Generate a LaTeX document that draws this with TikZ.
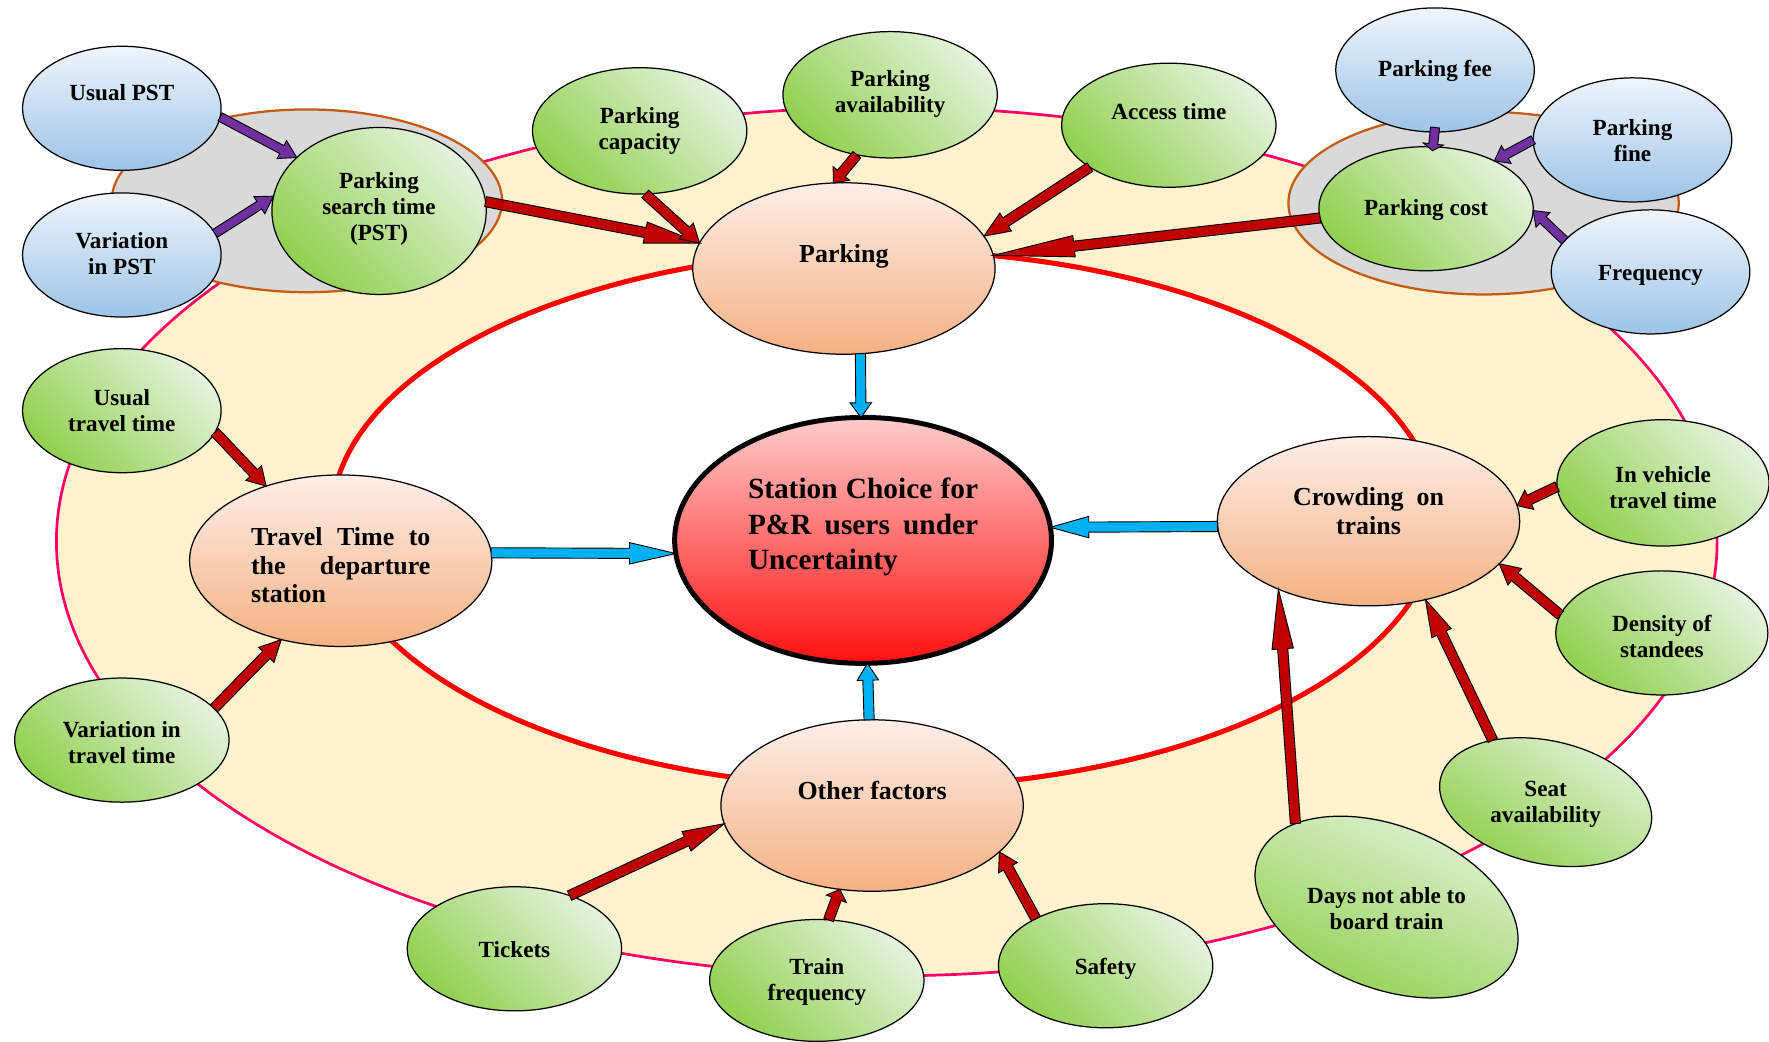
\documentclass[tikz,border=0pt]{standalone}
\usepackage{fontspec}
\setmainfont{Liberation Serif}
\usetikzlibrary{shapes.geometric,calc}

\definecolor{ringfill}{HTML}{FFF2CC}
\definecolor{ringline}{HTML}{FF0066}
\definecolor{innerline}{HTML}{FF0000}
\definecolor{grpfill}{HTML}{D9D9D9}
\definecolor{grpline}{HTML}{C55A11}
\definecolor{greenL}{HTML}{E4F2DC}
\definecolor{greenD}{HTML}{92D050}
\definecolor{blueL}{HTML}{EFF5FC}
\definecolor{blueD}{HTML}{9DC3E6}
\definecolor{peachL}{HTML}{FDEEE8}
\definecolor{peachD}{HTML}{F4B183}
\definecolor{coreL}{HTML}{FFCCCC}
\definecolor{coreD}{HTML}{FF1010}
\definecolor{arrRed}{HTML}{C00000}
\definecolor{arrPurple}{HTML}{7030A0}
\definecolor{arrBlue}{HTML}{00B0F0}

\tikzset{
  oval/.style={ellipse, draw=black, line width=1.1pt, inner sep=0pt, outer sep=0pt},
  dims/.style 2 args={minimum width=#1pt, minimum height=#2pt},
  greenoval/.style={oval, bottom color=greenD, top color=greenL, shading angle=-45},
  blueoval/.style={oval, bottom color=blueD, top color=blueL},
  peachoval/.style={oval, bottom color=peachD, top color=peachL},
  coreoval/.style={oval, line width=4.4pt, bottom color=coreD, top color=coreL},
  smalltxt/.style={font=\fontsize{20.5}{23}\selectfont\bfseries, align=center, inner sep=0pt},
  midtxt/.style={font=\fontsize{23}{25}\selectfont\bfseries, align=center, inner sep=0pt},
  coretxt/.style={font=\fontsize{26}{31.5}\selectfont\bfseries, inner sep=0pt},
  blockarr/.style={draw=black, line width=0.8pt, line join=miter},
  ring/.style={fill=ringfill, draw=ringline, line width=2.4pt},
  innerring/.style={fill=white, draw=innerline, line width=4.5pt},
  group/.style={fill=grpfill, draw=grpline, line width=2pt},
}

% #1 shape style, #2 name, #3 centre, #4 text style, #5 text raise, #6 text
\newcommand\factornode[6]{%
  \node[#1] (#2) at (#3) {};
  \node[#4, yshift=#5] (#2-txt) at (#2.center) {#6};
}

% #1 fill colour, #2 tail, #3 tip, #4 shaft half width, #5 head half width, #6 head length
\newcommand\blockarrow[6]{%
  \coordinate (ba-t) at (#2);
  \coordinate (ba-p) at (#3);
  \coordinate (ba-h) at ($(ba-p)!#6!(ba-t)$);
  \draw[blockarr, fill=#1]
    ($(ba-t)!#4!90:(ba-p)$) -- ($(ba-h)!#4!90:(ba-p)$) -- ($(ba-h)!#5!90:(ba-p)$)
    -- (ba-p)
    -- ($(ba-h)!#5!-90:(ba-p)$) -- ($(ba-h)!#4!-90:(ba-p)$) -- ($(ba-t)!#4!-90:(ba-p)$)
    -- cycle;
}
\newcommand\redarrow[3]{\blockarrow{arrRed}{#1}{#2}{4.5pt}{9.5pt}{#3}}
\newcommand\purplearrow[3]{\blockarrow{arrPurple}{#1}{#2}{4pt}{9pt}{#3}}
\newcommand\bluearrow[3]{\blockarrow{arrBlue}{#1}{#2}{4.5pt}{9.5pt}{#3}}

\begin{document}
\begin{tikzpicture}[x=1pt, y=-1pt]
\clip (0,0) rectangle (1568,923);

% rings and groups
\draw[ring] (786,480) ellipse [x radius=736pt, y radius=385pt];
\draw[innerring] (784,460) ellipse [x radius=490pt, y radius=238pt];
\draw[group] (272,178) ellipse [x radius=173pt, y radius=81pt];
\draw[group] (1315,180) ellipse [x radius=173pt, y radius=81pt];

% parking search time group
\factornode{blueoval, dims={176}{110}}{upst}{108,96}{smalltxt}{14pt}{Usual PST}
\factornode{blueoval, dims={176}{110}}{vpst}{108,226}{smalltxt}{1pt}{Variation\\in PST}
\factornode{greenoval, dims={190}{148}}{pst}{336,187}{smalltxt}{2pt}{Parking\\search time\\(PST)}

% parking cost group
\factornode{blueoval, dims={176}{110}}{pfee}{1272,62}{smalltxt}{-1pt}{Parking fee}
\factornode{blueoval, dims={176}{110}}{pfine}{1447,124}{smalltxt}{-1pt}{Parking\\fine}
\factornode{blueoval, dims={176}{110}}{freq}{1463,241}{smalltxt}{-3pt}{Frequency}
\factornode{greenoval, dims={190}{110}}{pcost}{1264,185}{smalltxt}{-1pt}{Parking cost}

% parking factors
\factornode{greenoval, dims={190}{112}}{pcap}{567,116}{smalltxt}{0pt}{Parking\\capacity}
\factornode{greenoval, dims={190}{112}}{pavail}{789,84}{smalltxt}{1pt}{Parking\\availability}
\factornode{greenoval, dims={190}{110}}{access}{1036,111}{smalltxt}{12pt}{Access time}

% travel time factors
\factornode{greenoval, dims={176}{110}}{utt}{108,364}{smalltxt}{0pt}{Usual\\travel time}
\factornode{greenoval, dims={190}{110}}{vtt}{108,656}{smalltxt}{-2pt}{Variation in\\travel time}

% crowding factors
\factornode{greenoval, dims={188}{112}}{ivt}{1474,428}{smalltxt}{-4pt}{In vehicle\\travel time}
\factornode{greenoval, dims={188}{110}}{dens}{1473,561}{smalltxt}{-3pt}{Density of\\standees}
\factornode{greenoval, shading angle=-33, dims={191}{109}, rotate=-12.5}{seat}{1370,711}{smalltxt}{-2pt}{Seat\\availability}
\factornode{greenoval, shading angle=-24, dims={244}{144}, rotate=-21.5}{days}{1229,804}{smalltxt}{-1pt}{Days not able to\\board train}

% other factors
\factornode{greenoval, dims={190}{110}}{tickets}{456,841}{smalltxt}{-1pt}{Tickets}
\factornode{greenoval, dims={190}{108}}{trainf}{724,869}{smalltxt}{-1pt}{Train\\frequency}
\factornode{greenoval, dims={190}{110}}{safety}{980,856}{smalltxt}{-3pt}{Safety}

% main criteria
\factornode{peachoval, dims={268}{152}}{parking}{748,238}{midtxt}{11pt}{Parking}
\factornode{peachoval, dims={268}{152}}{travel}{302,497}{midtxt}{-4pt}{\parbox{159pt}{Travel\hfill Time\hfill to\\the\hfill departure\\station}}
\factornode{peachoval, dims={268}{150}}{crowd}{1213,462}{midtxt}{9pt}{Crowding\ \ on\\trains}
\factornode{peachoval, dims={268}{152}}{other}{773,714}{midtxt}{13pt}{Other factors}

% core
\factornode{coreoval, dims={334}{218}}{core}{765,479}{coretxt}{12pt}{\parbox{204pt}{Station\hfill Choice\hfill for\\P\&R\hfill users\hfill under\\Uncertainty}}

% sub-factor links
\purplearrow{upst.-5}{pst.147}{15pt}
\purplearrow{vpst.13}{pst.172}{15pt}
\purplearrow{$(pfee.south)+(0,-4)$}{$(pcost.84)+(0,3.5)$}{6pt}
\purplearrow{pfine.180}{pcost.35}{12pt}
\purplearrow{freq.160}{pcost.-1}{12pt}

% factor links
\redarrow{pst.5}{parking.170}{49pt}
\redarrow{pcap.-85}{parking.170}{16pt}
\redarrow{pavail.-119}{parking.97}{11pt}
\redarrow{access.208}{parking.13}{23pt}
\redarrow{pcost.185}{parking.5}{72pt}
\redarrow{utt.-13}{travel.135}{16pt}
\redarrow{vtt.19}{travel.233}{19pt}
\redarrow{ivt.182}{crowd.6}{12pt}
\redarrow{dens.170}{crowd.-18}{18pt}
\redarrow{seat.143}{crowd.-54}{33pt}
\redarrow{days.159}{crowd.217}{53pt}
\redarrow{tickets.44}{other.187}{37pt}
\redarrow{trainf.79}{other.249}{9pt}
\redarrow{safety.146}{other.-20}{16pt}

% criteria links
\bluearrow{parking.-79}{core.91}{13pt}
\bluearrow{crowd.182}{core.4}{34pt}
\bluearrow{travel.3}{core.184}{41pt}
\bluearrow{other.92}{core.-88}{15pt}
\end{tikzpicture}
\end{document}
